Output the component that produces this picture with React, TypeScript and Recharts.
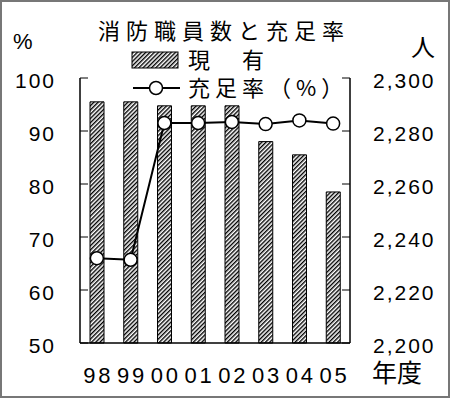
import React from 'react';
import { ComposedChart, Bar, Line, XAxis, YAxis } from 'recharts';

const years = ['98', '99', '00', '01', '02', '03', '04', '05'];
const staff = [2291, 2291, 2289.5, 2289.5, 2289.5, 2276, 2271, 2257];
const rate = [66.0, 65.7, 91.5, 91.5, 91.7, 91.3, 92.0, 91.4];
const rateTicks = [50, 60, 70, 80, 90, 100];
const staffTicks = [2200, 2220, 2240, 2260, 2280, 2300];
const boundaryTicks = [1, 2, 3, 4, 5, 6, 7];
const legendNames = ['現　有', '充足率（%）'];

const data = years.map((year, i) => ({ year, staff: staff[i], rate: rate[i] }));

const JP = '"Noto Sans CJK JP", sans-serif';
const NUM = '"Liberation Sans", Arial, sans-serif';

const numTick = { fill: '#000', fontSize: 21, fontFamily: NUM, letterSpacing: 2, dy: 3 };

export default function App() {
  return (
    <div style={{ position: 'relative', width: 450, height: 398, background: '#fff' }}>
      <style>{'body{margin:0}'}</style>
      <ComposedChart width={450} height={398} data={data} margin={{ top: 78, right: 0, bottom: 0, left: 0 }}>
        <defs>
          <pattern id="hatch" patternUnits="userSpaceOnUse" width="3" height="3" patternTransform="rotate(45)">
            <rect width="3" height="3" fill="#fff" />
            <line x1="0.7" y1="0" x2="0.7" y2="3" stroke="#000" strokeWidth="1.4" />
          </pattern>
        </defs>
        <XAxis
          xAxisId="bounds"
          type="number"
          domain={[0, 8]}
          ticks={boundaryTicks}
          height={0}
          axisLine={false}
          tickSize={-8}
          tickLine={{ stroke: '#000', strokeWidth: 1 }}
          tickFormatter={() => ''}
        />
        <XAxis
          xAxisId="cat"
          dataKey="year"
          height={55}
          axisLine={{ stroke: '#000', strokeWidth: 1.5 }}
          tickLine={false}
          tickSize={0}
          tickMargin={24}
          tick={{ fill: '#000', fontSize: 22, fontFamily: NUM, letterSpacing: 3, dx: 1.5 }}
        />
        <XAxis
          xAxisId="top"
          orientation="top"
          type="number"
          domain={[0, 8]}
          height={0}
          axisLine={{ stroke: '#000', strokeWidth: 1.5 }}
          tick={false}
          tickLine={false}
        />
        <YAxis
          yAxisId="rate"
          width={80}
          domain={[50, 100]}
          ticks={rateTicks}
          axisLine={{ stroke: '#000', strokeWidth: 1.5 }}
          tickSize={-8}
          tickMargin={32}
          tickLine={{ stroke: '#000', strokeWidth: 1 }}
          tick={numTick}
        />
        <YAxis
          yAxisId="staff"
          orientation="right"
          width={100}
          domain={[2200, 2300]}
          ticks={staffTicks}
          axisLine={{ stroke: '#000', strokeWidth: 1.5 }}
          tickSize={-8}
          tickMargin={31}
          tickLine={{ stroke: '#000', strokeWidth: 1 }}
          tick={numTick}
          tickFormatter={(v: number) => v.toLocaleString('en-US')}
        />
        <Bar
          xAxisId="cat"
          yAxisId="staff"
          dataKey="staff"
          name={legendNames[0]}
          barSize={14}
          fill="url(#hatch)"
          stroke="#000"
          strokeWidth={1}
          isAnimationActive={false}
        />
        <Line
          xAxisId="cat"
          yAxisId="rate"
          type="linear"
          dataKey="rate"
          name={legendNames[1]}
          stroke="#000"
          strokeWidth={2}
          dot={{ r: 6.5, fill: '#fff', stroke: '#000', strokeWidth: 1.5 }}
          isAnimationActive={false}
        />
      </ComposedChart>

      {/* title and unit labels */}
      <div style={{ position: 'absolute', left: 98, top: 16, fontFamily: JP, fontSize: 22, lineHeight: '26px', letterSpacing: 6, whiteSpace: 'nowrap' }}>
        消防職員数と充足率
      </div>
      <div style={{ position: 'absolute', left: 13, top: 30, fontFamily: NUM, fontSize: 22, lineHeight: '24px' }}>%</div>
      <div style={{ position: 'absolute', left: 411, top: 33, fontFamily: JP, fontSize: 24, lineHeight: '26px' }}>人</div>
      <div style={{ position: 'absolute', left: 372, top: 357, fontFamily: JP, fontSize: 25, lineHeight: '28px', whiteSpace: 'nowrap' }}>年度</div>

      {/* legend */}
      <svg style={{ position: 'absolute', left: 113, top: 46, overflow: 'visible' }} width={220} height={54}>
        <rect x={0} y={0} width={220} height={52} fill="#fff" />
        <rect x={19} y={6} width={46} height={16} fill="url(#hatch)" stroke="#000" strokeWidth={1} />
        <text x={75} y={22} fontFamily={JP} fontSize={22} letterSpacing={5}>{legendNames[0]}</text>
        <line x1={20} y1={42} x2={67} y2={42} stroke="#000" strokeWidth={2} />
        <circle cx={43} cy={42} r={6.5} fill="#fff" stroke="#000" strokeWidth={1.5} />
        <text x={75} y={50} fontFamily={JP} fontSize={22} letterSpacing={5}>{legendNames[1]}</text>
      </svg>

      <div style={{ position: 'absolute', left: 0, top: 0, width: 450, height: 398, boxSizing: 'border-box', border: '2px solid #777', pointerEvents: 'none' }} />
    </div>
  );
}
